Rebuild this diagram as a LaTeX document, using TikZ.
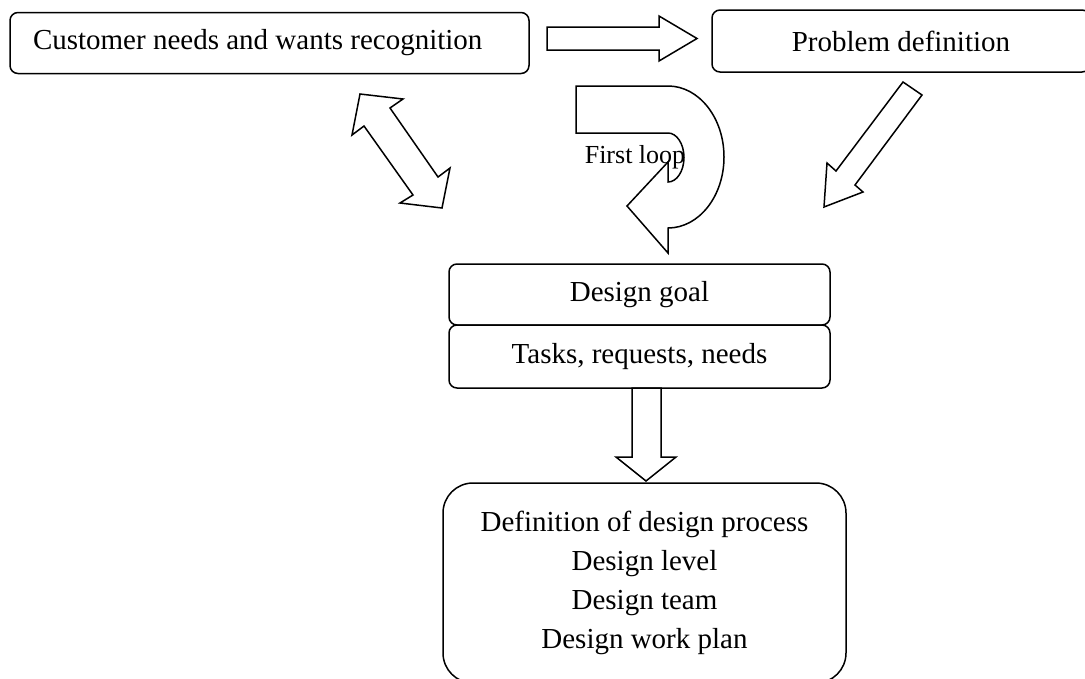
\documentclass[tikz,border=0pt]{standalone}
\usepackage{fontspec}
\setmainfont{Liberation Serif}
\begin{document}
\begin{tikzpicture}[x=1pt,y=-1pt,
  box/.style={draw,line width=1.5pt,rounded corners=8pt,inner sep=0pt,
    font=\fontsize{29}{39}\selectfont},
  blockarrow/.style={draw,line width=1.5pt,line join=miter}]
\useasboundingbox (0,0) rectangle (1085,678);
\clip (0,0) rectangle (1085,678);

% top row
\node[box,minimum width=519pt,minimum height=61pt]
  (cust) at (269.5,43) {\makebox[473pt][l]{Customer needs and wants recognition}};
\node[box,minimum width=378pt,minimum height=62pt] (prob) at (901,41) {Problem definition};

% centre stack
\node[box,minimum width=381pt,minimum height=61pt] (goal) at (639.5,294.5) {Design goal};
\node[box,minimum width=381pt,minimum height=63pt] (tasks) at (639.5,356.5) {Tasks, requests, needs};

% bottom box
\node[box,rounded corners=30pt,minimum width=403pt,minimum height=200pt,align=center]
  (proc) at (644.5,583) {Definition of design process\\Design level\\Design team\\Design work plan};

% block arrow: recognition -> problem definition
\draw[blockarrow] (547,27) -- (659,27) -- (659,16) -- (697,38.5) -- (659,61)
  -- (659,50) -- (547,50) -- cycle;

% two-headed block arrow between recognition and the design goal
\draw[blockarrow] (360,94) -- (403,99) -- (390,108) -- (438,177) -- (450,168)
  -- (442,208) -- (400,203) -- (413,195) -- (364,126) -- (352,135) -- cycle;

% block arrow: problem definition -> design goal
\draw[blockarrow] (903,82) -- (922,95) -- (855,185) -- (863,192) -- (824,207)
  -- (827,163) -- (836,171) -- cycle;

% U-turn arrow of the first loop
\draw[blockarrow] (576,86) -- (668,86)
  arc[start angle=-90,end angle=90,x radius=56,y radius=71]
  -- (668,253) -- (627,206) -- (668,162) -- (668,182)
  arc[start angle=90,end angle=-90,x radius=16,y radius=24.5]
  -- (576,133) -- cycle;
\node[font=\fontsize{26}{30}\selectfont,inner sep=0pt] (loop) at (635,157) {First loop};

% block arrow: tasks -> design process
\draw[blockarrow] (632,388) -- (632,457) -- (616,457) -- (646,481) -- (676,457)
  -- (661,457) -- (661,388) -- cycle;
\end{tikzpicture}
\end{document}
